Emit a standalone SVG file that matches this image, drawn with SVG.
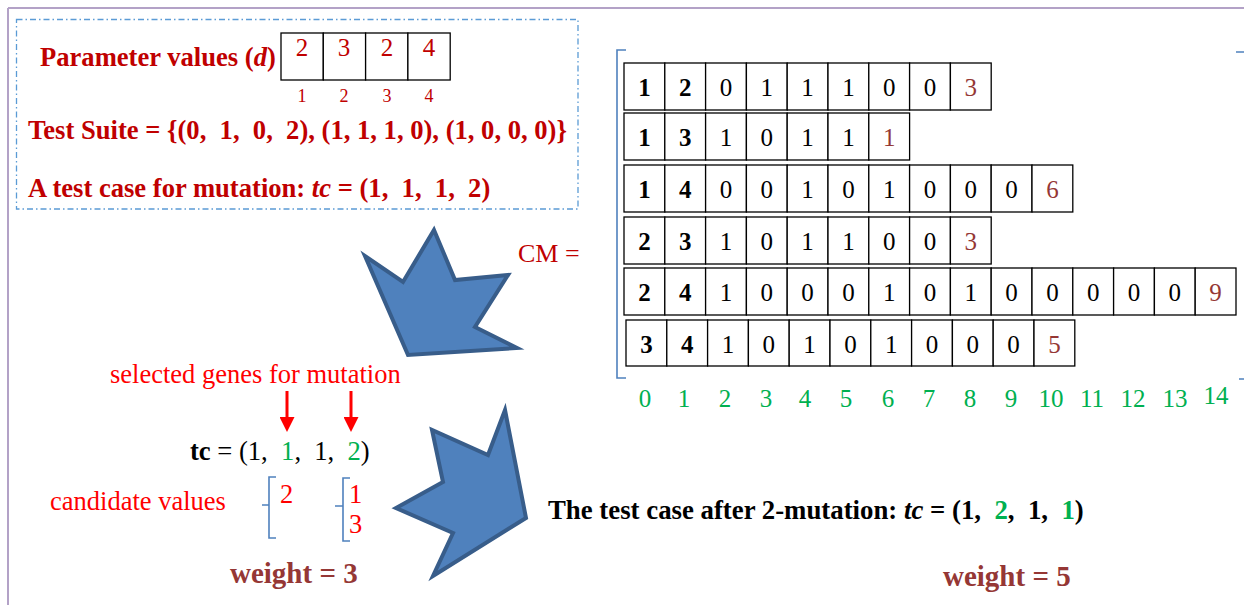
<svg xmlns="http://www.w3.org/2000/svg" width="1244" height="605" viewBox="0 0 1244 605">
<style>
text{font-family:"Liberation Serif","Times New Roman",serif;white-space:pre}
.dr{fill:#c00000;font-weight:bold;font-size:26.6px}
.cell{fill:#fff;stroke:#000;stroke-width:1.3}
.cn{font-size:25px;fill:#000;text-anchor:middle}
.cb{font-size:25px;fill:#000;text-anchor:middle;font-weight:bold}
.cl{font-size:25px;fill:#953735;text-anchor:middle}
.idx{font-size:25px;fill:#00b050;text-anchor:middle}
.bl{fill:none;stroke:#4f81bd;stroke-width:1.6}
.big{fill:#4f81bd;stroke:#385d8a;stroke-width:4;stroke-linejoin:miter}
.red{fill:#ff0000;font-size:26.5px}
.wt{fill:#953735;font-weight:bold;font-size:29px}
.g{fill:#00b050}
</style>
<defs>
<marker id="ah" markerWidth="5" markerHeight="5" refX="0" refY="2.5" orient="auto" markerUnits="strokeWidth">
<path d="M0,0 L5,2.5 L0,5 Z" fill="#ff0000"/>
</marker>
</defs>
<g id="frame">
<line x1="8" y1="8" x2="1244" y2="8" stroke="#b3a2c7" stroke-width="2"/>
<line x1="8" y1="8" x2="8" y2="605" stroke="#b3a2c7" stroke-width="2"/>
</g>
<g id="info-box">
<rect x="16.5" y="19.5" width="561.5" height="189.5" fill="none" stroke="#5b9bd5" stroke-width="1.3" stroke-dasharray="6 3 1.5 3"/>
<text class="dr" x="40" y="66">Parameter values (<tspan font-style="italic">d</tspan>)</text>
<g id="param-cells">
<rect class="cell" x="281" y="33" width="42.3" height="47"/>
<rect class="cell" x="323.3" y="33" width="42.3" height="47"/>
<rect class="cell" x="365.6" y="33" width="42.3" height="47"/>
<rect class="cell" x="407.9" y="33" width="42.3" height="47"/>
<g fill="#c00000" font-size="25" text-anchor="middle">
<text x="302" y="56">2</text><text x="344" y="56">3</text><text x="387" y="56">2</text><text x="429" y="56">4</text>
</g>
<g fill="#c00000" font-size="18" text-anchor="middle">
<text x="302" y="102">1</text><text x="344" y="102">2</text><text x="387" y="102">3</text><text x="429" y="102">4</text>
</g>
</g>
<text class="dr" x="28" y="139">Test Suite = {(0,  1,  0,  2), (1, 1, 1, 0), (1, 0, 0, 0)}</text>
<text class="dr" x="28" y="197">A test case for mutation: <tspan font-style="italic">tc</tspan> = (1,  1,  1,  2)</text>
</g>
<g id="cm">
<text x="518" y="262" fill="#c00000" font-size="26">CM =</text>
<path class="bl" d="M626,50 H617 V378 H626"/>
<path class="bl" d="M1236,52 H1244 M1239,379 H1244"/>
<g id="row1">
<rect class="cell" x="624" y="63" width="40.8" height="47"/><rect class="cell" x="664.8" y="63" width="40.8" height="47"/><rect class="cell" x="705.6" y="63" width="40.8" height="47"/><rect class="cell" x="746.4" y="63" width="40.8" height="47"/><rect class="cell" x="787.2" y="63" width="40.8" height="47"/><rect class="cell" x="828" y="63" width="40.8" height="47"/><rect class="cell" x="868.8" y="63" width="40.8" height="47"/><rect class="cell" x="909.6" y="63" width="40.8" height="47"/><rect class="cell" x="950.4" y="63" width="40.8" height="47"/>
<text class="cb" x="644.4" y="96">1</text><text class="cb" x="685.2" y="96">2</text><text class="cn" x="726" y="96">0</text><text class="cn" x="766.8" y="96">1</text><text class="cn" x="807.6" y="96">1</text><text class="cn" x="848.4" y="96">1</text><text class="cn" x="889.2" y="96">0</text><text class="cn" x="930" y="96">0</text><text class="cl" x="970.8" y="96">3</text>
</g>
<g id="row2">
<rect class="cell" x="624" y="113" width="40.8" height="47"/><rect class="cell" x="664.8" y="113" width="40.8" height="47"/><rect class="cell" x="705.6" y="113" width="40.8" height="47"/><rect class="cell" x="746.4" y="113" width="40.8" height="47"/><rect class="cell" x="787.2" y="113" width="40.8" height="47"/><rect class="cell" x="828" y="113" width="40.8" height="47"/><rect class="cell" x="868.8" y="113" width="40.8" height="47"/>
<text class="cb" x="644.4" y="146">1</text><text class="cb" x="685.2" y="146">3</text><text class="cn" x="726" y="146">1</text><text class="cn" x="766.8" y="146">0</text><text class="cn" x="807.6" y="146">1</text><text class="cn" x="848.4" y="146">1</text><text class="cl" x="889.2" y="146">1</text>
</g>
<g id="row3">
<rect class="cell" x="624" y="165" width="40.8" height="47"/><rect class="cell" x="664.8" y="165" width="40.8" height="47"/><rect class="cell" x="705.6" y="165" width="40.8" height="47"/><rect class="cell" x="746.4" y="165" width="40.8" height="47"/><rect class="cell" x="787.2" y="165" width="40.8" height="47"/><rect class="cell" x="828" y="165" width="40.8" height="47"/><rect class="cell" x="868.8" y="165" width="40.8" height="47"/><rect class="cell" x="909.6" y="165" width="40.8" height="47"/><rect class="cell" x="950.4" y="165" width="40.8" height="47"/><rect class="cell" x="991.2" y="165" width="40.8" height="47"/><rect class="cell" x="1032" y="165" width="40.8" height="47"/>
<text class="cb" x="644.4" y="198">1</text><text class="cb" x="685.2" y="198">4</text><text class="cn" x="726" y="198">0</text><text class="cn" x="766.8" y="198">0</text><text class="cn" x="807.6" y="198">1</text><text class="cn" x="848.4" y="198">0</text><text class="cn" x="889.2" y="198">1</text><text class="cn" x="930" y="198">0</text><text class="cn" x="970.8" y="198">0</text><text class="cn" x="1011.6" y="198">0</text><text class="cl" x="1052.4" y="198">6</text>
</g>
<g id="row4">
<rect class="cell" x="624" y="217" width="40.8" height="47"/><rect class="cell" x="664.8" y="217" width="40.8" height="47"/><rect class="cell" x="705.6" y="217" width="40.8" height="47"/><rect class="cell" x="746.4" y="217" width="40.8" height="47"/><rect class="cell" x="787.2" y="217" width="40.8" height="47"/><rect class="cell" x="828" y="217" width="40.8" height="47"/><rect class="cell" x="868.8" y="217" width="40.8" height="47"/><rect class="cell" x="909.6" y="217" width="40.8" height="47"/><rect class="cell" x="950.4" y="217" width="40.8" height="47"/>
<text class="cb" x="644.4" y="250">2</text><text class="cb" x="685.2" y="250">3</text><text class="cn" x="726" y="250">1</text><text class="cn" x="766.8" y="250">0</text><text class="cn" x="807.6" y="250">1</text><text class="cn" x="848.4" y="250">1</text><text class="cn" x="889.2" y="250">0</text><text class="cn" x="930" y="250">0</text><text class="cl" x="970.8" y="250">3</text>
</g>
<g id="row5">
<rect class="cell" x="624" y="268" width="40.8" height="47"/><rect class="cell" x="664.8" y="268" width="40.8" height="47"/><rect class="cell" x="705.6" y="268" width="40.8" height="47"/><rect class="cell" x="746.4" y="268" width="40.8" height="47"/><rect class="cell" x="787.2" y="268" width="40.8" height="47"/><rect class="cell" x="828" y="268" width="40.8" height="47"/><rect class="cell" x="868.8" y="268" width="40.8" height="47"/><rect class="cell" x="909.6" y="268" width="40.8" height="47"/><rect class="cell" x="950.4" y="268" width="40.8" height="47"/><rect class="cell" x="991.2" y="268" width="40.8" height="47"/><rect class="cell" x="1032" y="268" width="40.8" height="47"/><rect class="cell" x="1072.8" y="268" width="40.8" height="47"/><rect class="cell" x="1113.6" y="268" width="40.8" height="47"/><rect class="cell" x="1154.4" y="268" width="40.8" height="47"/><rect class="cell" x="1195.2" y="268" width="40.8" height="47"/>
<text class="cb" x="644.4" y="301">2</text><text class="cb" x="685.2" y="301">4</text><text class="cn" x="726" y="301">1</text><text class="cn" x="766.8" y="301">0</text><text class="cn" x="807.6" y="301">0</text><text class="cn" x="848.4" y="301">0</text><text class="cn" x="889.2" y="301">1</text><text class="cn" x="930" y="301">0</text><text class="cn" x="970.8" y="301">1</text><text class="cn" x="1011.6" y="301">0</text><text class="cn" x="1052.4" y="301">0</text><text class="cn" x="1093.2" y="301">0</text><text class="cn" x="1134" y="301">0</text><text class="cn" x="1174.8" y="301">0</text><text class="cl" x="1215.6" y="301">9</text>
</g>
<g id="row6">
<rect class="cell" x="626" y="320" width="40.8" height="46"/><rect class="cell" x="666.8" y="320" width="40.8" height="46"/><rect class="cell" x="707.6" y="320" width="40.8" height="46"/><rect class="cell" x="748.4" y="320" width="40.8" height="46"/><rect class="cell" x="789.2" y="320" width="40.8" height="46"/><rect class="cell" x="830" y="320" width="40.8" height="46"/><rect class="cell" x="870.8" y="320" width="40.8" height="46"/><rect class="cell" x="911.6" y="320" width="40.8" height="46"/><rect class="cell" x="952.4" y="320" width="40.8" height="46"/><rect class="cell" x="993.2" y="320" width="40.8" height="46"/><rect class="cell" x="1034" y="320" width="40.8" height="46"/>
<text class="cb" x="646.4" y="353">3</text><text class="cb" x="687.2" y="353">4</text><text class="cn" x="728" y="353">1</text><text class="cn" x="768.8" y="353">0</text><text class="cn" x="809.6" y="353">1</text><text class="cn" x="850.4" y="353">0</text><text class="cn" x="891.2" y="353">1</text><text class="cn" x="932" y="353">0</text><text class="cn" x="972.8" y="353">0</text><text class="cn" x="1013.6" y="353">0</text><text class="cl" x="1054.4" y="353">5</text>
</g>
<g id="col-index">
<text class="idx" x="645" y="407">0</text><text class="idx" x="684" y="407">1</text><text class="idx" x="725" y="407">2</text><text class="idx" x="766" y="407">3</text><text class="idx" x="805" y="407">4</text><text class="idx" x="846" y="407">5</text><text class="idx" x="888" y="407">6</text><text class="idx" x="929" y="407">7</text><text class="idx" x="970" y="407">8</text><text class="idx" x="1011" y="407">9</text><text class="idx" x="1051" y="407">10</text><text class="idx" x="1092" y="407">11</text><text class="idx" x="1133" y="407">12</text><text class="idx" x="1175" y="407">13</text><text class="idx" x="1216" y="404">14</text>
</g>
</g>
<g id="mutation">
<text class="red" x="110" y="383">selected genes for mutation</text>
<text x="190" y="460" font-size="26.6" fill="#000"><tspan font-weight="bold">tc</tspan> = (1,  <tspan class="g">1</tspan>,  1,  <tspan class="g">2</tspan>)</text>
<text class="red" x="50" y="510">candidate values</text>
<path class="bl" d="M276,477 H269 V538 H276 M269,505 H262"/>
<path class="bl" d="M350,478 H343 V541 H350 M343,506 H335"/>
<text class="red" x="280" y="503">2</text>
<text class="red" x="349" y="503">1</text>
<text class="red" x="349" y="533">3</text>
<text class="wt" x="230" y="583">weight = 3</text>
</g>
<g id="result">
<text x="548" y="519" font-size="26.8" font-weight="bold" fill="#000">The test case after 2-mutation: <tspan font-style="italic">tc</tspan> = (1,  <tspan class="g">2</tspan>,  1,  <tspan class="g">1</tspan>)</text>
<text class="wt" x="943" y="586">weight = 5</text>
</g>
<g id="connectors">
<line x1="287" y1="391" x2="287" y2="417" stroke="#ff0000" stroke-width="3" marker-end="url(#ah)"/>
<line x1="351" y1="391" x2="351" y2="417" stroke="#ff0000" stroke-width="3" marker-end="url(#ah)"/>
<polygon class="big" points="434,230 455,280 508,275 475,327 517,348 408,355 365,256 403,282"/>
<polygon class="big" points="505,410 526,518 433,576 453,533 396,508 443,482 432,430 488,455"/>
</g>
</svg>
